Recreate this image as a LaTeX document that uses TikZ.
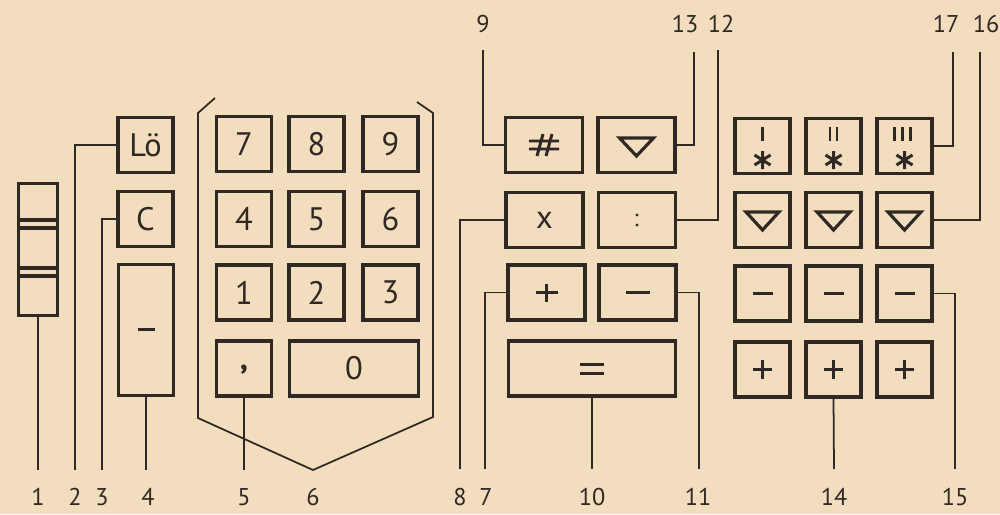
\documentclass[tikz,border=0pt]{standalone}
\usepackage{fontspec}
\setmainfont{PT Sans}
\definecolor{bg}{RGB}{242,221,190}
\definecolor{ink}{RGB}{48,40,35}
\begin{document}
\begin{tikzpicture}[x=0.02cm,y=-0.02cm,
  keyb/.style={draw=ink, line width=2pt, inner sep=0pt, text=ink, font=\fontsize{18.5}{19}\selectfont},
  sq/.style={keyb, minimum width=1.1cm, minimum height=1.1cm},
  opk/.style={keyb, minimum width=1.54cm, minimum height=1.1cm},
  lead/.style={draw=ink, line width=1pt},
  sym/.style={draw=ink, line width=1.7pt},
  num/.style={text=ink, inner sep=0pt, font=\fontsize{13.8}{14}\selectfont}]
\useasboundingbox (0,0) rectangle (1000,514);
\fill[bg] (0,0) rectangle (1000,514);

% element 1
\node[draw=ink, line width=2pt, minimum width=0.78cm, minimum height=2.64cm, inner sep=0pt] (sw) at (38,249.5) {};
\foreach \yy in {220,228,268,276}
  \draw[ink, line width=2pt] (sw.west |- 0,\yy) -- (sw.east |- 0,\yy);

% left keys
\node[sq] (lo) at (145.5,145) {Lö};
\node[sq] (ck) at (145.5,219) {C};
\node[keyb, minimum width=1.1cm, minimum height=2.62cm] (tall) at (146,330) {};
\draw[sym] ([shift={(-8.5,-1)}]tall.center) -- ([shift={(8.5,-1)}]tall.center);

% number pad
\foreach \t/\cx/\cy/\n in {7/244/144/k7, 8/316.5/144/k8, 9/390.5/144/k9,
  4/244/219/k4, 5/316.5/219/k5, 6/390.5/219/k6,
  1/244/292.5/k1, 2/316.5/292.5/k2, 3/390.5/292.5/k3}
  \node[sq] (\n) at (\cx,\cy) {\t};
\node[sq] (comma) at (244,368.5) {\raisebox{-0.45ex}{\textbf{,}}};
\node[keyb, minimum width=2.58cm, minimum height=1.1cm] (k0) at (354,368.5) {0};
\draw[lead] (215,98) -- (198,113) -- (198,418) -- (313,470) coordinate (e6) -- (433,417) -- (433,113) -- (417,102);

% operator keys
\node[opk] (hash) at (544,145) {};
\draw[sym] ([shift={(-15,-4)}]hash.center) -- ([shift={(15,-4)}]hash.center)
  ([shift={(-15,4)}]hash.center) -- ([shift={(15,4)}]hash.center)
  ([shift={(-1,-11)}]hash.center) -- ([shift={(-7,11)}]hash.center)
  ([shift={(8,-11)}]hash.center) -- ([shift={(2,11)}]hash.center);
\node[opk] (tri) at (636.5,145) {};
\draw[sym, line width=1.8pt, line join=miter] ([shift={(-17,-7)}]tri.center) -- ([shift={(17,-7)}]tri.center) -- ([shift={(0,11)}]tri.center) -- cycle;
\node[opk] (xk) at (544.5,220) {x};
\node[opk] (colon) at (637,220) {};
\fill[ink] ([shift={(0,-5)}]colon.center) circle (1.7) ([shift={(0,5)}]colon.center) circle (1.7);
\node[opk] (plus) at (546.5,292.5) {};
\draw[sym] ([shift={(-11,0)}]plus.center) -- ([shift={(11,0)}]plus.center) ([shift={(0,-9)}]plus.center) -- ([shift={(0,9)}]plus.center);
\node[opk] (minus) at (637.5,292.5) {};
\draw[sym] ([shift={(-12,0)}]minus.center) -- ([shift={(12,0)}]minus.center);
\node[keyb, minimum width=3.34cm, minimum height=1.1cm] (eq) at (592,368.5) {};
\draw[sym] ([shift={(-12,-4.5)}]eq.center) -- ([shift={(12,-4.5)}]eq.center) ([shift={(-12,4.5)}]eq.center) -- ([shift={(12,4.5)}]eq.center);

% memory keys
\foreach \r/\cy in {1/146,2/220,3/293.5,4/369.5}
  \foreach \c/\cx in {1/762.5,2/833.5,3/904.5}
    \node[sq] (m\r\c) at (\cx,\cy) {};
\foreach \c in {1,2,3} {
  \draw[sym, line width=1.8pt, line join=miter] ([shift={(-16.5,-8)}]m2\c.center) -- ([shift={(16.5,-8)}]m2\c.center) -- ([shift={(0,10)}]m2\c.center) -- cycle;
  \draw[sym] ([shift={(-10,0)}]m3\c.center) -- ([shift={(10,0)}]m3\c.center);
  \draw[sym] ([shift={(-9.5,0)}]m4\c.center) -- ([shift={(9.5,0)}]m4\c.center) ([shift={(0,-9.5)}]m4\c.center) -- ([shift={(0,9.5)}]m4\c.center);
  \draw[sym] ([shift={(0,5)}]m1\c.center) -- ([shift={(0,23)}]m1\c.center)
    ([shift={(-8,9)}]m1\c.center) -- ([shift={(8,19)}]m1\c.center)
    ([shift={(-8,19)}]m1\c.center) -- ([shift={(8,9)}]m1\c.center);
}
\draw[sym, line width=1.4pt] ([shift={(0,-19)}]m11.center) -- ([shift={(0,-5)}]m11.center);
\foreach \dx in {-3.5,3.5}
  \draw[sym, line width=1.4pt] ([shift={(\dx,-19)}]m12.center) -- ([shift={(\dx,-5)}]m12.center);
\foreach \dx in {-10,-2,6}
  \draw[sym, line width=1.4pt] ([shift={(\dx,-19)}]m13.center) -- ([shift={(\dx,-5)}]m13.center);

% connector end points
\coordinate (e1) at (38,470);
\coordinate (e2) at (75,470);
\coordinate (e3) at (102,470);
\coordinate (e4) at (146,470);
\coordinate (e5) at (244,470);
\coordinate (e8) at (460,469);
\coordinate (e7) at (485,469);
\coordinate (e10) at (592,469);
\coordinate (e11) at (699,469);
\coordinate (e14) at (834,469);
\coordinate (e15) at (955,469);
\coordinate (e9) at (483,50);
\coordinate (e13) at (694,52);
\coordinate (e12) at (718,50);
\coordinate (e17) at (953,52);
\coordinate (e16) at (980,52);

% connectors
\draw[lead] (sw.south) -- (e1);
\draw[lead] (lo.west) -| (e2);
\draw[lead] (ck.west) -| (e3);
\draw[lead] (tall.south) -- (e4);
\draw[lead] (comma.south) -- (e5);
\draw[lead] (xk.west) -| (e8);
\draw[lead] (plus.west) -| (e7);
\draw[lead] (eq.south) -- (e10);
\draw[lead] (minus.east) -| (e11);
\draw[lead] (m42.south) -- (e14);
\draw[lead] (m33.east) -| (e15);
\draw[lead] (hash.west) -| (e9);
\draw[lead] (tri.east) -| (e13);
\draw[lead] (colon.east) -| (e12);
\draw[lead] (m13.east) -| (e17);
\draw[lead] (m23.east) -| (e16);

% labels
\foreach \t/\xx in {1/38, 2/75, 3/102, 4/148, 5/244, 6/313, 8/460, 7/486, 10/592, 11/698, 14/834, 15/955}
  \node[num] (lb\t) at (\xx,497) {\t};
\foreach \t/\xx in {9/483, 13/685, 12/721, 17/946, 16/986}
  \node[num] (lt\t) at (\xx,24) {\t};
\end{tikzpicture}
\end{document}
